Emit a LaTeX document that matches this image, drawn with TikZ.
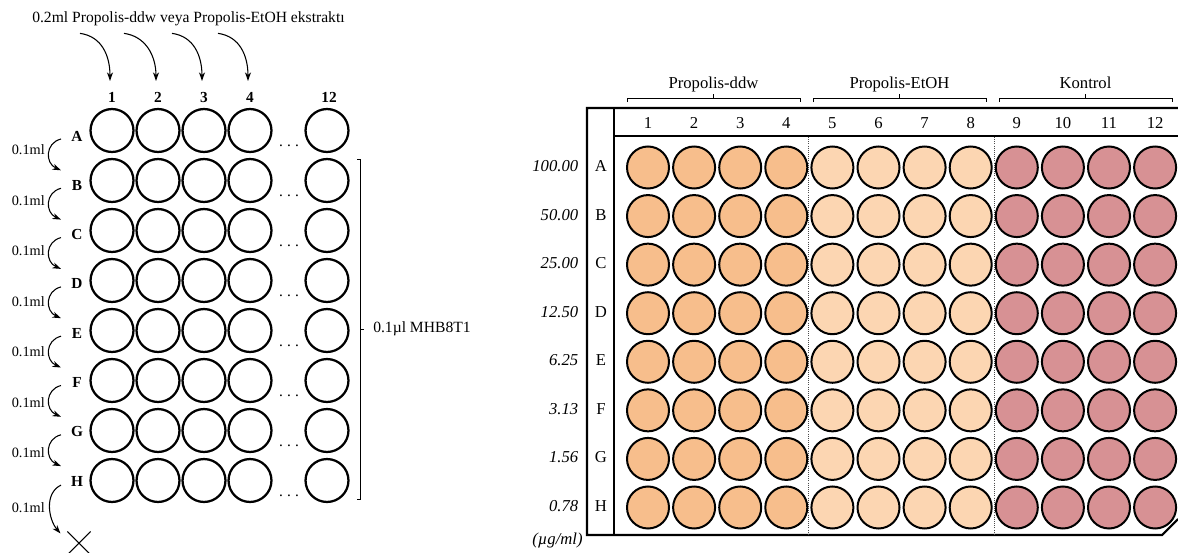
\documentclass[tikz,border=0pt]{standalone}
\usepackage{fontspec}
\setmainfont{Liberation Serif}
\usetikzlibrary{arrows.meta,shapes.misc,calc}
\definecolor{ddwc}{HTML}{F7BE8C}
\definecolor{etohc}{HTML}{FCD6B2}
\definecolor{ctrlc}{HTML}{D79194}
\begin{document}
\begin{tikzpicture}[x=0.75pt,y=-0.75pt,
  lwell/.style={circle,draw=black,line width=1.7pt,minimum size=32.2pt,inner sep=0pt},
  pwell/.style={circle,draw=black,line width=1.5pt,minimum size=31.5pt,inner sep=0pt},
  tip/.style={-{Stealth[length=6.5pt,width=4.5pt]},line width=0.8pt},
  lbl/.style={font=\fontsize{11.5}{13}\selectfont\bfseries,anchor=base,inner sep=0pt},
  vol/.style={font=\fontsize{10.7}{13}\selectfont,inner sep=0pt,anchor=east},
  ltxt/.style={font=\fontsize{11.7}{14}\selectfont,inner sep=0pt},
  ptxt/.style={font=\fontsize{12.5}{14}\selectfont,inner sep=0pt,anchor=base},
  conc/.style={font=\fontsize{12.5}{14}\selectfont\itshape,inner sep=0pt,anchor=base east},
  plateframe/.style={line width=1.6pt,line join=miter},
  sep/.style={densely dotted,line width=0.6pt,black!70},
  grp/.style={line width=0.7pt},
  ]
\useasboundingbox (0,0) rectangle (1178,553);

% ---------------- left plate ----------------
\node[ltxt] (T) at (188.5,19) {0.2ml Propolis-ddw veya Propolis-EtOH ekstraktı};

\foreach \c/\xx in {1/112,2/158,3/204,4/250,12/329}{
  \node[lbl] (Lc\c) at (\xx,102) {\c};
}

\foreach \r [count=\i from 0] in {A,B,C,D,E,F,G,H}{
  \pgfmathsetmacro\yy{130.5+50*\i}
  \foreach \c/\xx in {1/112,2/158,3/204,4/250,12/327}{
    \node[lwell] (L\c\r) at (\xx,\yy) {};
  }
  \node[font=\fontsize{11.5}{13}\selectfont,inner sep=0pt,anchor=base] (Ld\r) at (289,\yy+15.5) {.\hspace{3.1pt}.\hspace{3.1pt}.};
  \pgfmathsetmacro\bb{141+49.3*\i}
  \node[lbl] (Lr\r) at (77,\bb) {\r};
}

% transfer arrows between rows
\foreach \a/\b [count=\i from 0] in {A/B,B/C,C/D,D/E,E/F,F/G,G/H}{
  \draw[tip] ([shift={(-16,-2)}]Lr\a.base) .. controls +(-16,4) and +(-16,-7) .. ([shift={(-16,-20)}]Lr\b.base);
  \pgfmathsetmacro\vy{150+50.5*\i}
  \node[vol] (V\i) at (45,\vy) {0.1ml};
}
\node[cross out,draw,line width=0.8pt,minimum size=16.5pt,inner sep=0pt] (X) at (79,543) {};
\draw[tip] ([shift={(-16,-1)}]LrH.base) .. controls +(-17,8) and +(-12,-14) .. ([shift={(-7,2)}]X.north west);
\node[vol] (V7) at (45,507.5) {0.1ml};

% top arrows
\foreach \c/\dx in {1/-108.5,2/-64.5,3/-16.5,4/29.5}{
  \draw[tip] ([shift={(\dx,7)}]T.south) .. controls +(22,3) and +(0,-25) .. ([shift={(-2,-21)}]Lc\c.base);
}

% bracket
\node[ltxt,anchor=west] (M) at (373,329) {0.1µl MHB8T1};
\draw[line width=0.7pt] (357,159) -- (360,159) -- (360,499) -- (357,499);
\draw[line width=0.7pt] (360,329) -- (364,329);

% ---------------- right plate ----------------
\draw[plateframe] (1178,108) -- (587,108) -- (587,535) -- (1162,535) -- (1178,519);
\draw[plateframe] (614,108) -- (614,535);
\draw[plateframe] (614,136) -- (1178,136);
\draw[sep] (808,137) -- (808,534);
\draw[sep] (994,137) -- (994,534);

\foreach \c in {1,...,12}{
  \pgfmathsetmacro\px{648+46.1*(\c-1)}
  \node[ptxt] (P\c) at (\px,128.5) {\c};
}

\foreach \r/\cc [count=\i from 0] in {A/100.00,B/50.00,C/25.00,D/12.50,E/6.25,F/3.13,G/1.56,H/0.78}{
  \pgfmathsetmacro\py{167.5+48.57*\i}
  \foreach \c in {1,...,12}{
    \pgfmathsetmacro\px{648+46.1*(\c-1)}
    \ifnum\c<5 \def\fc{ddwc}\else\ifnum\c<9 \def\fc{etohc}\else\def\fc{ctrlc}\fi\fi
    \node[pwell,fill=\fc] (W\c\r) at (\px,\py) {};
  }
  \node[ptxt] (R\r) at (601,\py+4) {\r};
  \node[conc] (C\r) at (578.5,\py+4) {\cc};
}
\node[font=\fontsize{12.5}{14}\selectfont\itshape,inner sep=0pt,anchor=base] (U) at (557.5,544) {(µg/ml)};

% group brackets
\foreach \n/\xa/\xb/\txt in {g1/627/800/Propolis-ddw,g2/813/986/Propolis-EtOH,g3/999/1172/Kontrol}{
  \draw[grp] (\xa,102) -- (\xa,98) -- (\xb,98) -- (\xb,102);
  \draw[grp] ({(\xa+\xb)/2},98) -- ({(\xa+\xb)/2},94);
  \node[ptxt] (\n) at ({(\xa+\xb)/2},88) {\txt};
}
\end{tikzpicture}
\end{document}
